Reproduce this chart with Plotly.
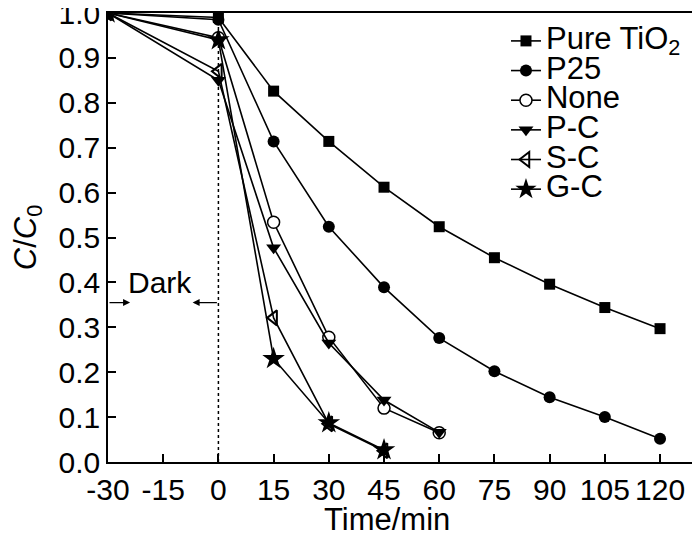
import plotly.graph_objects as go

# time points (min)
t_long = [-30, 0, 15, 30, 45, 60, 75, 90, 105, 120]
t_mid = [-30, 0, 15, 30, 45, 60]
t_short = [-30, 0, 15, 30, 45]

pure_tio2 = [1.0, 0.99, 0.826, 0.714, 0.612, 0.524, 0.455, 0.396, 0.344, 0.297]
p25 = [1.0, 0.985, 0.714, 0.524, 0.389, 0.276, 0.202, 0.144, 0.10, 0.052]
none = [1.0, 0.945, 0.534, 0.278, 0.12, 0.065]
p_c = [1.0, 0.85, 0.477, 0.265, 0.138, 0.066]
s_c = [1.0, 0.87, 0.321, 0.085, 0.025]
g_c = [1.0, 0.94, 0.23, 0.087, 0.027]

x_ticks = [-30, -15, 0, 15, 30, 45, 60, 75, 90, 105, 120]
x_labels = ["-30", "-15", "0", "15", "30", "45", "60", "75", "90", "105", "120"]
y_ticks = [0.0, 0.1, 0.2, 0.3, 0.4, 0.5, 0.6, 0.7, 0.8, 0.9, 1.0]

FONT = "Liberation Sans, Arial, sans-serif"
BIG = 30


def big(s):
    # legend spacing follows the legend font size, so the text is enlarged inline
    return f'<span style="font-size:31px">{s}</span>'


series = [
    ("Pure TiO<sub>2</sub>", t_long, pure_tio2, dict(symbol="square", size=11, color="black")),
    ("P25", t_long, p25, dict(symbol="circle", size=12, color="black")),
    ("None", t_mid, none, dict(symbol="circle", size=12, color="white",
                                line=dict(color="black", width=1.5))),
    ("P-C", t_mid, p_c, dict(symbol="triangle-down", size=13, color="black")),
    ("S-C", t_short, s_c, dict(symbol="triangle-left-open", size=13, color="black",
                                line=dict(color="black", width=2))),
    ("G-C", t_short, g_c, dict(symbol="star", size=17, color="black")),
]

fig = go.Figure()
for name, xs, ys, mk in series:
    fig.add_trace(go.Scatter(
        x=xs, y=ys, name=big(name),
        mode="lines+markers",
        line=dict(color="black", width=1.6),
        marker=mk,
    ))

# dark period boundary
fig.add_shape(type="line", x0=0, x1=0, y0=0, y1=1.0, xref="x", yref="y",
              line=dict(color="black", width=1.5, dash="dot"))

# "Dark" label with arrows
fig.add_annotation(x=-16, y=0.40, text="Dark", showarrow=False,
                   font=dict(size=BIG, color="black", family=FONT))
fig.add_annotation(x=-24, y=0.355, ax=-30, ay=0.355, axref="x", ayref="y",
                   xref="x", yref="y", text="", showarrow=True,
                   arrowhead=2, arrowsize=1, arrowwidth=1.4, arrowcolor="black")
fig.add_annotation(x=-7, y=0.355, ax=0, ay=0.355, axref="x", ayref="y",
                   xref="x", yref="y", text="", showarrow=True,
                   arrowhead=2, arrowsize=1, arrowwidth=1.4, arrowcolor="black")

# x axis title, placed slightly left of centre as in the original
fig.add_annotation(x=0.475, y=0, xref="paper", yref="paper", yshift=-57,
                   yanchor="middle", text="Time/min", showarrow=False,
                   font=dict(size=31, color="black", family=FONT))

# the page body adds an 8px offset, so the figure is sized to the remaining view
fig.update_layout(
    width=692, height=529,
    margin=dict(l=100, r=5, t=5, b=75, autoexpand=False),
    paper_bgcolor="white", plot_bgcolor="white",
    font=dict(family=FONT, size=BIG, color="black"),
    showlegend=True,
    legend=dict(x=0.678, y=0.982, xanchor="left", yanchor="top",
                bgcolor="rgba(0,0,0,0)", font=dict(size=20.5),
                tracegroupgap=0, itemwidth=30),
    xaxis=dict(
        range=[-30, 129.5], tickvals=x_ticks, ticktext=x_labels, tickangle=0,
        ticks="inside", ticklen=8, tickwidth=1.5, tickcolor="black",
        showline=True, linecolor="black", linewidth=1.5, mirror=True,
        showgrid=False, zeroline=False, ticklabeloverflow="allow",
    ),
    yaxis=dict(
        title=dict(text="<i>C</i>/<i>C</i><sub>0</sub>", standoff=40, font=dict(size=31)),
        range=[0, 1.0], tickvals=y_ticks, tickformat=".1f",
        ticks="inside", ticklen=8, tickwidth=1.5, tickcolor="black",
        showline=True, linecolor="black", linewidth=1.5, mirror=True,
        showgrid=False, zeroline=False, ticklabeloverflow="allow",
    ),
)

fig.write_html("out.html")
